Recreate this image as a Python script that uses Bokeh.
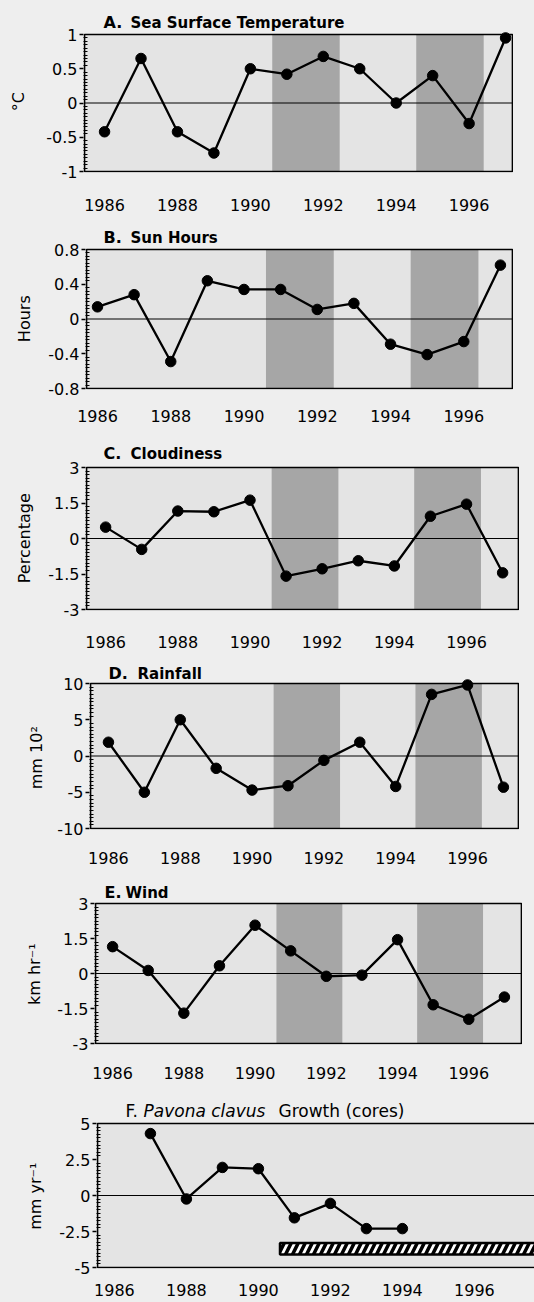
from bokeh.plotting import figure
from bokeh.models import Range1d, FixedTicker, Label, Spacer
from bokeh.layouts import column, row
from bokeh.embed import file_html
from bokeh.resources import INLINE

# ---------------- data ----------------
years = [1986, 1987, 1988, 1989, 1990, 1991, 1992, 1993, 1994, 1995, 1996, 1997]
sst = [-0.42, 0.65, -0.42, -0.73, 0.50, 0.42, 0.68, 0.50, 0.00, 0.40, -0.30, 0.95]
sun_hours = [0.14, 0.28, -0.49, 0.44, 0.34, 0.34, 0.11, 0.18, -0.29, -0.41, -0.26, 0.62]
cloudiness = [0.48, -0.46, 1.16, 1.13, 1.62, -1.59, -1.28, -0.94, -1.16, 0.94, 1.45, -1.45]
rainfall = [1.9, -5.0, 5.0, -1.7, -4.7, -4.1, -0.6, 1.9, -4.2, 8.5, 9.8, -4.3]
wind = [1.15, 0.13, -1.70, 0.33, 2.07, 0.97, -0.12, -0.07, 1.45, -1.34, -1.96, -1.01]
growth_years = [1987, 1988, 1989, 1990, 1991, 1992, 1993, 1994]
growth = [4.3, -0.24, 1.95, 1.86, -1.55, -0.55, -2.3, -2.3]
# shaded (El Nino) periods
band_starts = [1990.6, 1994.55]
band_ends = [1992.45, 1996.4]
# hatched bar (period) in panel F
hatch_start = 1990.6
hatch_y = (-4.1, -3.3)
x_ticks = [1986, 1988, 1990, 1992, 1994, 1996]

PAGE_BG = "#eeeeee"
PLOT_BG = "#e4e4e4"
BAND = "#a6a6a6"
FONT = "DejaVu Sans"
LB = 80  # left border of every figure
TITLE_SHIFT = 5  # label baseline correction (px)
NBSP = "\u00a0"

# layout in page pixels (page origin at 0,0): figure top, plot area, figure bottom
panels = [
    dict(ylabel="°C", xs=years, ys=sst, yr=(-1, 1), yt=[-1, -0.5, 0, 0.5, 1],
         xr=(1985.45, 1997.19), figtop=0, pl=84, pr=512, pt=34, pb=171, figbot=222, xstd=20, als=15,
         titles=[("A.", 103, 16, "bold"), ("Sea Surface Temperature", 130, 15, "bold")], base=27, pad=6),
    dict(ylabel="Hours", xs=years, ys=sun_hours, yr=(-0.8, 0.8), yt=[-0.8, -0.4, 0, 0.4, 0.8],
         xr=(1985.70, 1997.33), figtop=222, pl=86, pr=512, pt=249, pb=388, figbot=440, xstd=14, als=11,
         titles=[("B.", 103, 16, "bold"), ("Sun Hours", 130, 15, "bold")], base=242, pad=5),
    dict(ylabel="Percentage", xs=years, ys=cloudiness, yr=(-3, 3), yt=[-3, -1.5, 0, 1.5, 3],
         xr=(1985.47, 1997.44), figtop=440, pl=86, pr=518, pt=467, pb=609, figbot=660, xstd=19, als=11,
         titles=[("C.", 103, 16, "bold"), ("Cloudiness", 130, 15, "bold")], base=458, pad=5),
    dict(ylabel="mm 10²", xs=years, ys=rainfall, yr=(-10, 10), yt=[-10, -5, 0, 5, 10],
         xr=(1985.50, 1997.42), figtop=660, pl=90, pr=518, pt=683, pb=828, figbot=878, xstd=16, als=8,
         titles=[("D.", 108, 16, "bold"), ("Rainfall", 137, 15, "bold")], base=678, pad=5),
    dict(ylabel="km hr⁻¹", xs=years, ys=wind, yr=(-3, 3), yt=[-3, -1.5, 0, 1.5, 3],
         xr=(1985.52, 1997.48), figtop=878, pl=95, pr=521, pt=903, pb=1043, figbot=1098, xstd=16, als=10,
         titles=[("E.", 104, 16, "bold"), ("Wind", 125, 15, "bold")], base=897, pad=5),
    dict(ylabel="mm yr⁻¹", xs=growth_years, ys=growth, yr=(-5, 5), yt=[-5, -2.5, 0, 2.5, 5],
         xr=(1985.53, 1997.67), figtop=1098, pl=97, pr=534, pt=1123, pb=1267, figbot=1300, xstd=9, als=11,
         titles=[("F.", 125, 17, "normal"), ("Pavona clavus", 143, 17, "italic"),
                 ("Growth (cores)", 278, 17, "normal")], base=1115, pad=5, open_right=True),
]

items = []
for pn in panels:
    open_right = pn.get("open_right", False)
    x0, x1 = pn["xr"]
    y0, y1 = pn["yr"]
    ppx = (pn["pr"] - pn["pl"]) / (x1 - x0)
    ppy = (pn["pb"] - pn["pt"]) / (y1 - y0)
    fl = pn["pl"] - 1
    fr = pn["pr"] if open_right else pn["pr"] + 1
    ft = pn["figtop"]
    fb = pn["pb"] + 1
    xr = Range1d(x0 - (pn["pl"] - fl) / ppx, x1 + (fr - pn["pr"]) / ppx)
    yr = Range1d(y0 - (fb - pn["pb"]) / ppy, y1 + (pn["pt"] - ft) / ppy)

    p = figure(frame_width=fr - fl, frame_height=fb - ft,
               output_backend="svg", toolbar_location=None, x_range=xr, y_range=yr,
               min_border_left=LB, min_border_right=0, min_border_top=0,
               min_border_bottom=pn["figbot"] - fb, margin=(0, 0, 0, 0))
    p.background_fill_color = PAGE_BG
    p.border_fill_color = PAGE_BG
    p.outline_line_color = None
    p.grid.visible = False

    right_edge = x1 + 2 if open_right else x1
    # plot area background
    p.quad(left=[x0], right=[right_edge], bottom=[y0], top=[y1],
           fill_color=PLOT_BG, line_color=None)
    if not open_right:
        p.quad(left=band_starts, right=band_ends, bottom=[y0] * len(band_starts),
               top=[y1] * len(band_starts), fill_color=BAND, line_color=None)

    p.segment(x0=[x0], y0=[0], x1=[right_edge], y1=[0], line_color="black", line_width=1.2)

    if open_right:
        p.quad(left=[hatch_start], right=[right_edge], bottom=[hatch_y[0]], top=[hatch_y[1]],
               fill_color="white", line_color="black", line_width=2.5,
               hatch_pattern="right_diagonal_line", hatch_color="black",
               hatch_weight=3.5, hatch_scale=14)

    p.line(pn["xs"], pn["ys"], line_color="black", line_width=2.3)
    p.scatter(pn["xs"], pn["ys"], size=10.5, fill_color="black", line_color="black")

    # plot area frame
    p.quad(left=[x0], right=[right_edge], bottom=[y0], top=[y1],
           fill_color=None, line_color="black", line_width=1.7)

    xa = p.xaxis[0]
    xa.ticker = FixedTicker(ticks=x_ticks)
    xa.axis_line_color = None
    xa.major_tick_line_color = None
    xa.minor_tick_line_color = None
    xa.major_label_standoff = pn["xstd"]
    xa.major_label_text_font = FONT
    xa.major_label_text_font_size = "16px"
    xa.major_label_text_color = "black"

    ya = p.yaxis[0]
    yt = pn["yt"]
    minor = []
    step = (yt[1] - yt[0]) / 10.0
    for i in range(len(yt) - 1):
        for k in range(1, 10):
            minor.append(yt[i] + k * step)
    ya.ticker = FixedTicker(ticks=yt, minor_ticks=minor)
    ya.major_label_overrides = {t: "{:g}".format(t) for t in yt}
    ya.axis_line_color = None
    ya.major_tick_out = 4
    ya.major_tick_in = 0
    ya.major_tick_line_width = 1.5
    ya.minor_tick_in = 4
    ya.minor_tick_out = 0
    ya.minor_tick_line_width = 1
    ya.major_label_standoff = 2
    ya.major_label_text_font = FONT
    ya.major_label_text_font_size = "16px"
    ya.major_label_text_color = "black"
    # the frame also holds the title strip, so pad the label end to centre it on the plot area
    ya.axis_label = pn["ylabel"] + NBSP * pn["pad"]
    ya.axis_label_text_font = FONT
    ya.axis_label_text_font_size = "16px"
    ya.axis_label_text_font_style = "normal"
    ya.axis_label_text_color = "black"
    ya.axis_label_standoff = pn["als"]

    for (txt, px, size, style) in pn["titles"]:
        p.add_layout(Label(x=px - fl, y=fb - pn["base"] + TITLE_SHIFT, x_units="screen", y_units="screen",
                           text=txt, text_font=FONT, text_font_size="%dpx" % size,
                           text_font_style=style, text_color="black",
                           text_baseline="alphabetic", text_align="left"))

    off = fl - LB
    if off > 0:
        items.append(row(Spacer(width=off, height=10, margin=(0, 0, 0, 0)), p,
                         spacing=0, margin=(0, 0, 0, 0)))
    else:
        items.append(p)

layout = column(*items, spacing=0, margin=(0, 0, 0, 0))
layout.background = PAGE_BG

html = file_html(layout, INLINE, title="Climate anomalies")
html = html.replace("</head>", "<style>html,body{background:#eeeeee;margin:0;padding:0;}</style></head>", 1)
open("out.html", "w").write(html)
